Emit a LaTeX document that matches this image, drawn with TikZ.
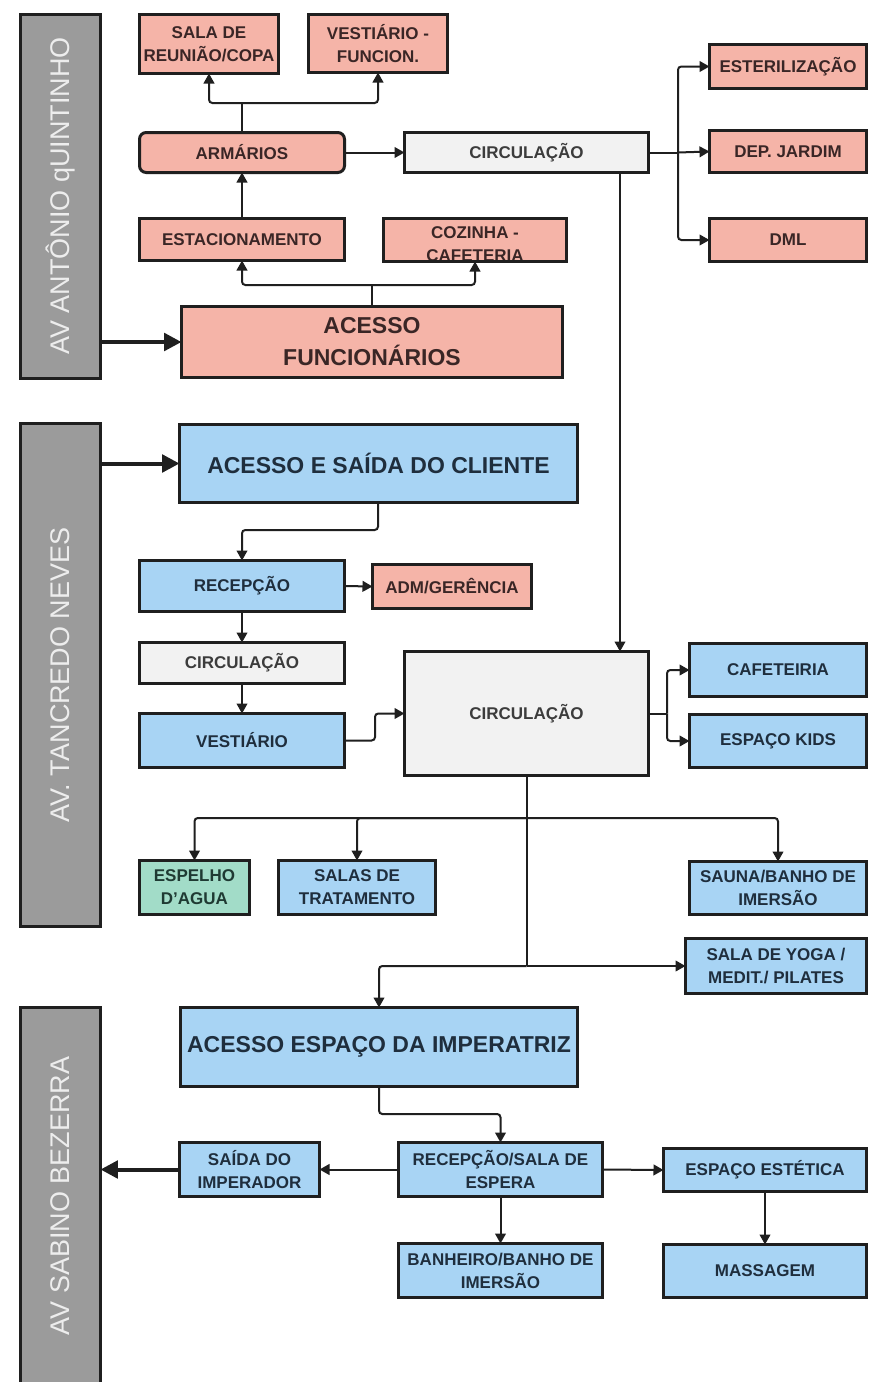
\documentclass[tikz,border=0pt]{standalone}
\usepackage{fontspec}
\setmainfont{Liberation Sans}
\usetikzlibrary{arrows.meta}
\definecolor{salc}{HTML}{F5B4A8}
\definecolor{bluc}{HTML}{A8D4F4}
\definecolor{gryc}{HTML}{F2F2F2}
\definecolor{grnc}{HTML}{A2DCC8}
\definecolor{barc}{HTML}{9B9B9B}
\definecolor{edge}{HTML}{1F1F1F}
\definecolor{salt}{HTML}{3A2626}
\definecolor{blut}{HTML}{1F2E3D}
\definecolor{gryt}{HTML}{3C3C3C}
\definecolor{grnt}{HTML}{1F3A33}
\definecolor{bart}{HTML}{EDEDED}
\newcommand\bx[7]{\node[#6, minimum width={(#4-#2-3)*0.75pt}, minimum height={(#5-#3-3)*0.75pt}] (#1) at ({(#2+#4)/2},{(#3+#5)/2}) {#7};}
\begin{document}
\begin{tikzpicture}[x=0.75pt, y=-0.75pt,
 box/.style={draw=edge, line width=2.25pt, inner sep=0pt, outer sep=0pt, align=center, font=\bfseries\fontsize{12.75pt}{17.25pt}\selectfont},
 sal/.style={box, fill=salc, text=salt},
 blu/.style={box, fill=bluc, text=blut},
 gry/.style={box, fill=gryc, text=gryt},
 grn/.style={box, fill=grnc, text=grnt},
 big/.style={font=\bfseries\fontsize{17.25pt}{24pt}\selectfont},
 bar/.style={draw=edge, line width=2.25pt, fill=barc, inner sep=0pt, outer sep=0pt},
 bartext/.style={text=bart, font=\fontsize{20.25pt}{24pt}\selectfont, rotate=90},
 ln/.style={draw=edge, line width=1.5pt, rounded corners=2.5pt},
 conn/.style={ln, -{Triangle[length=7.5pt,width=8pt]}},
 thk/.style={draw=edge, line width=3pt, -{Triangle[length=13pt,width=13pt]}}]
\useasboundingbox (0,0) rectangle (868,1382);
\fill[white] (0,0) rectangle (868,1382);
\clip (0,0) rectangle (868,1382);

% street bars
\bx{b1}{19}{13}{102}{380}{bar}{}
\bx{b2}{19}{422}{102}{928}{bar}{}
\bx{b3}{19}{1006}{102}{1392}{bar}{}
\node[bartext] (t1) at (60.5,196) {AV ANTÔNIO qUINTINHO};
\node[bartext] (t2) at (60.5,675) {AV. TANCREDO NEVES};
\node[bartext] (t3) at (60.5,1196) {AV SABINO BEZERRA};

% top section
\bx{sala}{138}{13}{280}{75}{sal}{SALA DE\\REUNIÃO/COPA}
\bx{vestf}{307}{13}{449}{74}{sal}{VESTIÁRIO -\\FUNCION.}
\bx{arm}{138}{131}{346}{174}{sal, rounded corners=5pt}{ARMÁRIOS}
\bx{est}{138}{217}{346}{262}{sal}{ESTACIONAMENTO}
\bx{coz}{382}{217}{568}{263}{sal}{}
\node[text=salt, align=center, font=\bfseries\fontsize{12.75pt}{17.25pt}\selectfont] (cozt) at (475,244) {COZINHA -\\CAFETERIA};
\draw[draw=edge, line width=2.25pt] (coz.south west) -- (coz.south east);
\bx{acf}{180}{305}{564}{379}{sal, big}{ACESSO\\FUNCIONÁRIOS}
\bx{circa}{403}{131}{650}{174}{gry}{CIRCULAÇÃO}
\bx{ester}{708}{43}{868}{90}{sal}{ESTERILIZAÇÃO}
\bx{depj}{708}{129}{868}{174}{sal}{DEP. JARDIM}
\bx{dml}{708}{217}{868}{263}{sal}{DML}

% middle section
\bx{acs}{178}{423}{579}{504}{blu, big}{ACESSO E SAÍDA DO CLIENTE}
\bx{rec}{138}{559}{346}{613}{blu}{RECEPÇÃO}
\bx{adm}{371}{563}{533}{610}{sal}{ADM/GERÊNCIA}
\bx{circb}{138}{641}{346}{685}{gry}{CIRCULAÇÃO}
\bx{vest}{138}{712}{346}{769}{blu}{VESTIÁRIO}
\bx{circc}{403}{650}{650}{777}{gry}{CIRCULAÇÃO}
\bx{caf}{688}{642}{868}{698}{blu}{CAFETEIRIA}
\bx{kids}{688}{713}{868}{769}{blu}{ESPAÇO KIDS}
\bx{esp}{138}{859}{251}{916}{grn}{ESPELHO\\D'AGUA}
\bx{salas}{277}{859}{437}{916}{blu}{SALAS DE\\TRATAMENTO}
\bx{sauna}{688}{860}{868}{916}{blu}{SAUNA/BANHO DE\\IMERSÃO}
\bx{yoga}{684}{937}{868}{995}{blu}{SALA DE YOGA /\\MEDIT./ PILATES}

% bottom section
\bx{ace}{179}{1006}{579}{1088}{blu, big}{ACESSO ESPAÇO DA IMPERATRIZ}
\bx{saida}{178}{1141}{321}{1198}{blu}{SAÍDA DO\\IMPERADOR}
\bx{rsala}{397}{1141}{604}{1198}{blu}{RECEPÇÃO/SALA DE\\ESPERA}
\bx{este}{662}{1147}{868}{1193}{blu}{ESPAÇO ESTÉTICA}
\bx{banh}{397}{1242}{604}{1299}{blu}{BANHEIRO/BANHO DE\\IMERSÃO}
\bx{mass}{662}{1243}{868}{1299}{blu}{MASSAGEM}

% helper coordinates
\coordinate (j1) at (242,103);
\coordinate (j2) at (372,285);
\coordinate (j3) at (678,152.5);
\coordinate (v1) at (620,0);
\coordinate (v2) at (378,530);
\coordinate (v3) at (375,0);
\coordinate (j4) at (667,713.5);
\coordinate (j5) at (526.5,818);
\coordinate (j6) at (526.5,966);
\coordinate (v4) at (500.5,1114);

% street arrows
\draw[thk] (b1.east |- acf.west) -- (acf.west);
\draw[thk] (b2.east |- acs.west) -- (acs.west);
\draw[thk] (saida.west) -- (saida.west -| b3.east);

% top connectors
\draw[ln] (arm.north) -- (j1);
\draw[conn] (j1) -| (sala.south);
\draw[conn] (j1) -| (vestf.south);
\draw[conn] (est.north) -- (arm.south);
\draw[ln] (acf.north) -- (j2);
\draw[conn] (j2) -| (est.south);
\draw[conn] (j2) -| (coz.south);
\draw[conn] (arm.east) -- (circa.west);
\draw[ln] (circa.east) -- (j3);
\draw[conn] (j3) |- (ester.west);
\draw[conn] (j3) -- (depj.west);
\draw[conn] (j3) |- (dml.west);
\draw[conn] (circa.south -| v1) -- (circc.north -| v1);

% middle connectors
\draw[conn] (acs.south -| v2) -- (v2) -| (rec.north);
\draw[conn] (rec.east) -- (adm.west);
\draw[conn] (rec.south) -- (circb.north);
\draw[conn] (circb.south) -- (vest.north);
\draw[conn] (vest.east) -- (vest.east -| v3) |- (circc.west);
\draw[ln] (circc.east) -- (j4);
\draw[conn] (j4) |- (caf.west);
\draw[conn] (j4) |- (kids.west);
\draw[ln] (circc.south) -- (j6);
\draw[conn] (j5) -| (esp.north);
\draw[conn] (j5) -| (salas.north);
\draw[conn] (j5) -| (sauna.north);
\draw[conn] (j6) -- (yoga.west);
\draw[conn] (j6) -| (ace.north);

% bottom connectors
\draw[conn] (ace.south) -- (ace.south |- v4) -| (rsala.north);
\draw[conn] (rsala.west) -- (saida.east);
\draw[conn] (rsala.east) -- (este.west);
\draw[conn] (rsala.south) -- (banh.north);
\draw[conn] (este.south) -- (mass.north);
\end{tikzpicture}
\end{document}
